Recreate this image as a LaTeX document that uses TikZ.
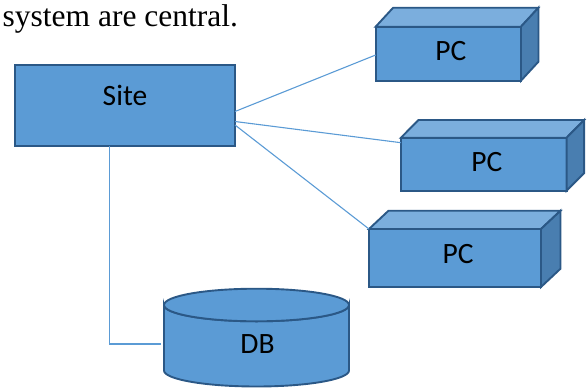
\documentclass[tikz,border=0pt]{standalone}
\usepackage{fontspec}
\setmainfont{Liberation Serif}
\newfontfamily\calib{Carlito}
\definecolor{boxfill}{HTML}{5B9BD5}
\definecolor{boxtop}{HTML}{7BAEDD}
\definecolor{boxside}{HTML}{497EB0}
\definecolor{boxline}{HTML}{2B5886}
\definecolor{wire}{HTML}{5B9BD5}
\begin{document}
\begin{tikzpicture}[x=1pt,y=-1pt,
  flat/.style={draw=boxline,fill=boxfill,line width=1.9pt,inner sep=0pt,outer sep=0pt,line join=miter},
  face/.style={draw=boxline,line width=1.9pt,line join=miter},
  lbl/.style={font=\calib\fontsize{29.5}{31}\selectfont,inner sep=0pt},
  wireline/.style={draw=wire,line width=1.1pt}]
\useasboundingbox (0,0) rectangle (587,389);
\node[anchor=base west,inner sep=0pt,font=\fontsize{31.5}{34}\selectfont] (cap) at (2.5,26) {system are central.};
% Site
\node[flat,minimum width=220pt,minimum height=81pt,
  label={[lbl,yshift=10.5pt]center:Site}] (site) at (125,105.5) {};
% PC boxes
\node[flat,minimum width=145.3pt,minimum height=54pt,
  label={[lbl,xshift=2.5pt,yshift=3pt]center:PC}] (pc1) at (448.3,53.7) {};
\filldraw[face,fill=boxtop] (pc1.north west) -- ++(17.5,-19) -- ++(145.3,0) -- (pc1.north east) -- cycle;
\filldraw[face,fill=boxside] (pc1.north east) -- ++(17.5,-19) -- ++(0,54) -- (pc1.south east) -- cycle;
\node[flat,minimum width=165.7pt,minimum height=53pt,
  label={[lbl,xshift=3pt,yshift=2.2pt]center:PC}] (pc2) at (483.8,164.2) {};
\filldraw[face,fill=boxtop] (pc2.north west) -- ++(17.5,-17.7) -- ++(165.7,0) -- (pc2.north east) -- cycle;
\filldraw[face,fill=boxside] (pc2.north east) -- ++(17.5,-17.7) -- ++(0,53) -- (pc2.south east) -- cycle;
\node[flat,minimum width=172pt,minimum height=58pt,
  label={[lbl,xshift=3pt,yshift=4pt]center:PC}] (pc3) at (455,258) {};
\filldraw[face,fill=boxtop] (pc3.north west) -- ++(19.5,-18.3) -- ++(172,0) -- (pc3.north east) -- cycle;
\filldraw[face,fill=boxside] (pc3.north east) -- ++(19.5,-18.3) -- ++(0,58) -- (pc3.south east) -- cycle;
% DB cylinder
\node[inner sep=0pt,outer sep=0pt,minimum width=185pt,minimum height=97.5pt] (db) at (256.5,337.8) {};
\filldraw[face,fill=boxfill] (164,305) -- (164,370.5)
  arc[start angle=180,end angle=0,x radius=92.5,y radius=16] -- (349,305)
  arc[start angle=0,end angle=180,x radius=92.5,y radius=16.3] -- cycle;
\filldraw[face,fill=boxfill] (256.5,305) ellipse[x radius=92.5,y radius=16.3];
\node[lbl] (dblbl) at (257.5,343.8) {DB};
\coordinate (dbin) at (161,344);
% connectors
\draw[wireline] ([yshift=-6pt]site.east) -- ([yshift=-1.3pt]pc1.west);
\draw[wireline] ([yshift=-16pt]site.east) -- ([yshift=21.5pt]pc2.west);
\draw[wireline] ([yshift=-19.5pt]site.east) -- (pc3.north west);
\draw[wireline] ([xshift=-15.7pt]site.south) |- (dbin);
\end{tikzpicture}
\end{document}
